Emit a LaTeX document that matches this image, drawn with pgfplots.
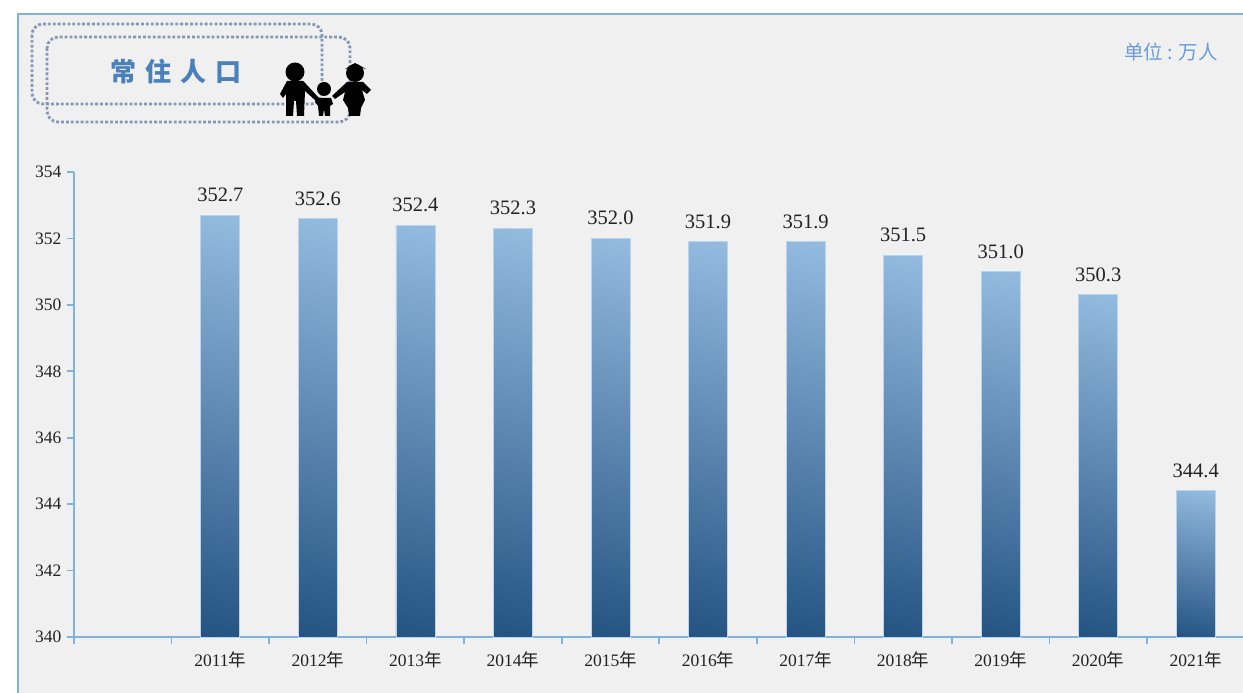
\documentclass[border=0pt]{standalone}
\usepackage{pgfplots}
\pgfplotsset{compat=1.18}
\usepackage{fontspec}
\setmainfont{Liberation Serif}
\newfontfamily\cjk{Noto Sans CJK SC}
\definecolor{panel}{HTML}{F0F0F0}
\definecolor{axisblue}{HTML}{7FB2DE}
\definecolor{dotblue}{HTML}{8298B6}
\definecolor{barlight}{HTML}{9CC2E6}
\definecolor{bardark}{HTML}{1C4C7C}
\definecolor{titleblue}{HTML}{4A80BC}
\definecolor{unitblue}{HTML}{6A9BD8}
\definecolor{txt}{HTML}{222222}
\pgfdeclareverticalshading{barshade}{100bp}{color(0bp)=(bardark); color(16bp)=(bardark); color(84bp)=(barlight); color(100bp)=(barlight)}
\newcommand\pbar[2]{\addplot[ybar,bar width=39pt,bar shift=0pt,draw=barlight!70!white,line width=0.8pt,shade,shading=barshade,shading angle=-12,
  nodes near coords,point meta=y,
  every node near coord/.style={text=txt,font=\fontsize{20.5}{20.5}\selectfont,anchor=south,inner sep=0pt,yshift=12.8pt,/pgf/number format/fixed,/pgf/number format/fixed zerofill,/pgf/number format/precision=1,/pgf/number format/assume math mode=true}]
  coordinates {(#1,#2)};}
\begin{document}
\begin{tikzpicture}[x=1pt,y=1pt]
\useasboundingbox (0,0) rectangle (1243,693);
\begin{scope}[shift={(0,693)},yscale=-1]
\fill[panel] (18,14) rectangle (1243,693);
\draw[axisblue,line width=1.6pt] (18,693) -- (18,14) -- (1243,14);
\draw[dotblue,line width=2.8pt,dash pattern=on 2.8pt off 2.1pt,rounded corners=11pt] (32,24) rectangle (322,104);
\draw[dotblue,line width=2.8pt,dash pattern=on 2.8pt off 2.1pt,rounded corners=11pt] (47,37) rectangle (350,122);
% family icon
\begin{scope}[black]
\fill (295,72) circle (9.5);
\fill (287,81) -- (303,81) -- (306,84) -- (319,98) -- (316,101) -- (305,91) -- (304,116) -- (297,116) -- (296,101) -- (294,101) -- (293,116) -- (286,116) -- (286,94) -- (283,98) -- (280,94) -- cycle;
\fill (324,89) circle (7);
\fill (317,98) -- (331,98) -- (333,104) -- (330,106) -- (330,116) -- (325,116) -- (324,109) -- (323,116) -- (319,116) -- (318,106) -- (315,102) -- cycle;
\fill (355,73) circle (9);
\fill (345,69) -- (355,63) -- (366,69) -- (355,66) -- cycle;
\fill (347,82) -- (363,82) -- (371,90) -- (367,94) -- (362,90) -- (365,100) -- (361,108) -- (360,116) -- (349,116) -- (348,108) -- (343,100) -- (345,92) -- (335,99) -- (332,96) -- cycle;
\end{scope}
\node[text=titleblue,font=\cjk\bfseries\fontsize{26}{26}\selectfont] at (176,72) {常\hspace{9pt}住\hspace{9pt}人\hspace{9pt}口};
\node[text=unitblue,font=\cjk\fontsize{19.5}{19.5}\selectfont,anchor=east,inner sep=0pt] at (1218,52.5) {单位 : 万人};
\end{scope}
\begin{axis}[
  at={(74pt,56pt)},anchor=south west,
  scale only axis,width=1169pt,height=465pt,
  xmin=-0.5,xmax=11.484,ymin=340,ymax=354,
  axis x line*=bottom,axis y line*=left,
  axis line style={axisblue,line width=1.5pt,-},
  clip=false,
  xtick={-0.5,0.5,1.5,2.5,3.5,4.5,5.5,6.5,7.5,8.5,9.5,10.5},
  xticklabels={},
  ytick={340,342,344,346,348,350,352,354},
  major tick style={draw=axisblue,line width=1.6pt},
  major tick length=7.5pt,
  tick align=outside,
  xtick pos=bottom,ytick pos=left,
  y tick label style={text=txt,font=\fontsize{17.5}{17.5}\selectfont,/pgf/number format/assume math mode=true,/pgf/number format/1000 sep={},inner sep=0pt,xshift=-5pt},
  extra x ticks={1,2,3,4,5,6,7,8,9,10,11},
  extra x tick labels={2011{\cjk 年},2012{\cjk 年},2013{\cjk 年},2014{\cjk 年},2015{\cjk 年},2016{\cjk 年},2017{\cjk 年},2018{\cjk 年},2019{\cjk 年},2020{\cjk 年},2021{\cjk 年}},
  extra x tick style={major tick length=0pt,major tick style={draw=none},
    xticklabel style={text=txt,font=\fontsize{17.5}{17.5}\selectfont,inner sep=0pt,anchor=base,yshift=-30pt}},
]
\pbar{1}{352.7}
\pbar{2}{352.6}
\pbar{3}{352.4}
\pbar{4}{352.3}
\pbar{5}{352.0}
\pbar{6}{351.9}
\pbar{7}{351.9}
\pbar{8}{351.5}
\pbar{9}{351.0}
\pbar{10}{350.3}
\pbar{11}{344.4}
\end{axis}
\end{tikzpicture}
\end{document}
